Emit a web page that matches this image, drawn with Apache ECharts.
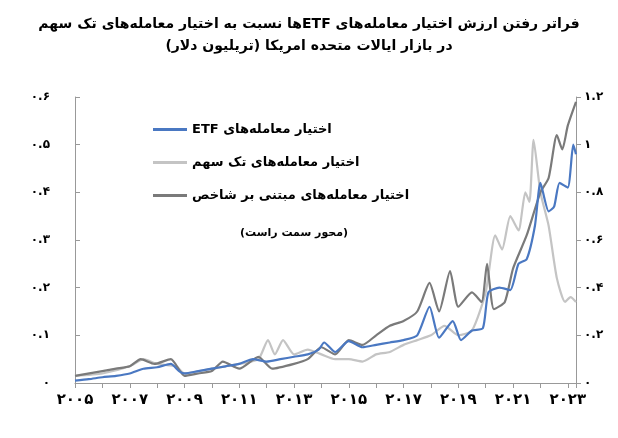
<!DOCTYPE html>
<html><head><meta charset="utf-8">
<script src="https://cdn.jsdelivr.net/npm/echarts@6/dist/echarts.min.js"></script>
<style>html,body{margin:0;background:#fff}#c{width:618px;height:438px}</style>
</head><body><div id="c"></div>
<script>
// ETF options value (left axis, trillion $)
const etfData = [[2005,0.005],[2005.5,0.008],[2006,0.012],[2006.5,0.015],[2007,0.02],[2007.5,0.03],[2008,0.033],[2008.5,0.04],[2008.8,0.025],[2009,0.02],[2009.5,0.025],[2010,0.03],[2010.5,0.035],[2011,0.04],[2011.5,0.05],[2012,0.045],[2012.5,0.05],[2013,0.055],[2013.5,0.06],[2013.9,0.07],[2014.1,0.085],[2014.5,0.065],[2015,0.088],[2015.5,0.075],[2016,0.08],[2016.5,0.085],[2017,0.09],[2017.5,0.1],[2017.95,0.16],[2018.3,0.095],[2018.8,0.13],[2019.1,0.09],[2019.5,0.11],[2019.9,0.115],[2020.1,0.19],[2020.5,0.2],[2020.9,0.195],[2021.2,0.25],[2021.5,0.26],[2021.8,0.33],[2022.0,0.42],[2022.3,0.36],[2022.5,0.37],[2022.7,0.42],[2023.0,0.41],[2023.2,0.5],[2023.3,0.48]];
// single stock options (left axis)
const stockData = [[2005,0.015],[2006,0.02],[2007,0.035],[2007.5,0.05],[2008,0.04],[2008.7,0.035],[2009,0.02],[2010,0.03],[2011,0.04],[2011.7,0.05],[2012.05,0.09],[2012.3,0.06],[2012.6,0.09],[2013,0.06],[2013.5,0.07],[2014,0.06],[2014.5,0.05],[2015,0.05],[2015.5,0.045],[2016,0.06],[2016.5,0.065],[2017,0.08],[2017.5,0.09],[2018,0.1],[2018.5,0.12],[2019,0.1],[2019.5,0.11],[2020,0.19],[2020.35,0.31],[2020.6,0.28],[2020.9,0.35],[2021.2,0.32],[2021.45,0.4],[2021.6,0.38],[2021.75,0.51],[2022.0,0.4],[2022.3,0.33],[2022.6,0.22],[2022.9,0.17],[2023.1,0.18],[2023.3,0.17]];
// index options (right axis)
const indexData = [[2005,0.03],[2006,0.05],[2006.5,0.06],[2007,0.07],[2007.4,0.1],[2007.9,0.08],[2008.5,0.1],[2009,0.03],[2009.5,0.04],[2010,0.05],[2010.4,0.09],[2011,0.06],[2011.7,0.11],[2012.2,0.06],[2013,0.08],[2013.5,0.1],[2014,0.15],[2014.5,0.12],[2015,0.18],[2015.5,0.16],[2016,0.2],[2016.5,0.24],[2017,0.26],[2017.5,0.3],[2017.95,0.42],[2018.3,0.3],[2018.7,0.47],[2019.0,0.32],[2019.5,0.38],[2019.85,0.34],[2020.05,0.5],[2020.3,0.31],[2020.7,0.34],[2021.0,0.48],[2021.5,0.62],[2022.0,0.8],[2022.3,0.86],[2022.6,1.04],[2022.8,0.98],[2023.0,1.08],[2023.3,1.18]];
const rtl = s => '\u202B' + s + '\u202C';
const names = ['اختیار معامله‌های ETF', 'اختیار معامله‌های تک سهم', 'اختیار معامله‌های مبتنی بر شاخص'].map(rtl);
const titleLines = ['فراتر رفتن ارزش اختیار معامله‌های ETFها نسبت به اختیار معامله‌های تک سهم', 'در بازار ایالات متحده امریکا (تریلیون دلار)'];

const fa = s => String(s).replace(/\d/g, d => '۰۱۲۳۴۵۶۷۸۹'[d]);
const font = 'DejaVu Sans';
const chart = echarts.init(document.getElementById('c'));
chart.setOption({
    animation: false,
    textStyle: { fontFamily: font },
    title: {
        text: titleLines.map(rtl).join('\n'),
        left: 'center', top: 8,
        textStyle: { fontSize: 14, fontWeight: 'bold', color: '#000', lineHeight: 22, fontFamily: font }
    },
    legend: {
        orient: 'vertical', left: 148, top: 118, itemGap: 20,
        itemWidth: 34, itemHeight: 3, icon: 'rect',
        textStyle: { fontSize: 13, fontWeight: 'bold', color: '#000' },
        data: names
    },
    graphic: [{ type: 'text', left: 240, top: 228, style: { text: rtl('(محور سمت راست)'), font: 'bold 11px ' + font, fill: '#000' } }],
    grid: { left: 75, right: 42, top: 97, bottom: 55 },
    xAxis: {
        type: 'value', min: 2005, max: 2023.3, interval: 1,
        axisLine: { lineStyle: { color: '#999' } }, axisTick: { lineStyle: { color: '#999' } },
        splitLine: { show: false },
        axisLabel: { fontSize: 15, fontWeight: 'bold', color: '#000', margin: 10,
            formatter: v => (v % 2 === 1 && v <= 2023) ? fa(v) : '' }
    },
    yAxis: [{
        type: 'value', min: 0, max: 0.6, interval: 0.1, position: 'left',
        axisLine: { show: true, lineStyle: { color: '#999' } }, axisTick: { show: true, inside: true, lineStyle: { color: '#999' } },
        splitLine: { show: false },
        axisLabel: { fontSize: 12, fontWeight: 'bold', color: '#000', margin: 25, formatter: v => fa(+v.toFixed(1)) }
    }, {
        type: 'value', min: 0, max: 1.2, interval: 0.2, position: 'right',
        axisLine: { show: true, lineStyle: { color: '#999' } }, axisTick: { show: true, lineStyle: { color: '#999' } },
        splitLine: { show: false },
        axisLabel: { fontSize: 12, fontWeight: 'bold', color: '#000', formatter: v => fa(+v.toFixed(1)) }
    }],
    series: [
        { name: names[1], type: 'line', data: stockData, showSymbol: false, smooth: 0.2, lineStyle: { width: 2.2, color: '#c4c4c4' }, itemStyle: { color: '#c4c4c4' } },
        { name: names[2], type: 'line', yAxisIndex: 1, data: indexData, showSymbol: false, smooth: 0.2, lineStyle: { width: 2.2, color: '#7a7a7a' }, itemStyle: { color: '#7a7a7a' } },
        { name: names[0], type: 'line', data: etfData, showSymbol: false, smooth: 0.2, lineStyle: { width: 2.2, color: '#4a78c2' }, itemStyle: { color: '#4a78c2' } }
    ]
});
</script></body></html>
